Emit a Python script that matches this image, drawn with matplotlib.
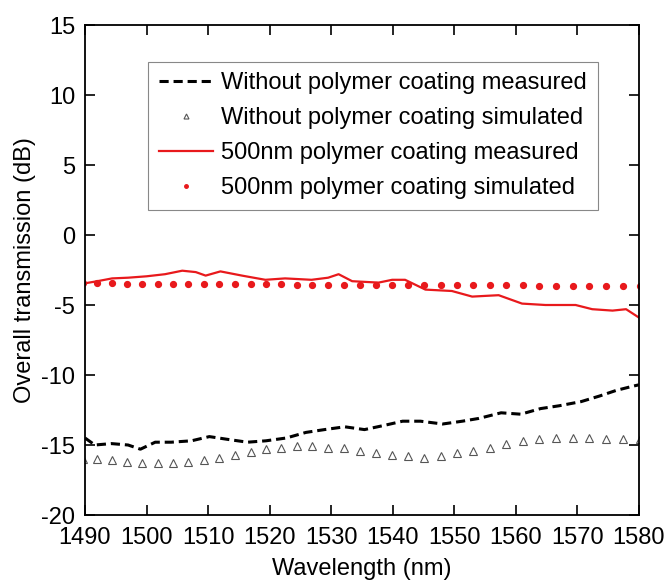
import matplotlib
matplotlib.use("Agg")
import matplotlib.pyplot as plt
import numpy as np

plt.rcParams["font.family"] = ["Liberation Sans", "DejaVu Sans"]
plt.rcParams["axes.unicode_minus"] = False

# Measured transmission, no polymer coating
wl_bare_meas = [1490.0, 1491.6, 1494.3, 1497.0, 1499.0, 1501.4, 1504.0, 1507.3, 1510.2,
                1513.2, 1516.4, 1519.4, 1522.7, 1525.9, 1528.9, 1532.2, 1535.4, 1538.6,
                1541.6, 1544.5, 1548.1, 1551.3, 1554.0, 1557.6, 1560.8, 1564.0, 1567.0,
                1570.6, 1573.6, 1576.3, 1579.0, 1580.0]
tr_bare_meas = [-14.5, -15.0, -14.9, -15.0, -15.3, -14.8, -14.8, -14.7, -14.4,
                -14.6, -14.8, -14.7, -14.5, -14.1, -13.9, -13.7, -13.9, -13.6,
                -13.3, -13.3, -13.5, -13.3, -13.1, -12.7, -12.8, -12.4, -12.2,
                -11.9, -11.5, -11.1, -10.8, -10.7]

# Measured transmission, 500 nm polymer coating
wl_coat_meas = [1490.0, 1492.0, 1494.4, 1497.0, 1500.0, 1503.0, 1505.8, 1508.0, 1509.6,
                1512.0, 1515.5, 1519.3, 1522.5, 1526.8, 1529.5, 1531.2, 1533.4, 1537.7,
                1539.9, 1542.0, 1545.3, 1549.6, 1552.9, 1555.0, 1557.2, 1561.0, 1564.8,
                1569.7, 1572.4, 1575.7, 1577.9, 1580.0]
tr_coat_meas = [-3.45, -3.3, -3.1, -3.05, -2.95, -2.8, -2.55, -2.65, -2.9,
                -2.6, -2.9, -3.2, -3.1, -3.2, -3.05, -2.8, -3.3, -3.4,
                -3.2, -3.2, -3.9, -4.0, -4.4, -4.35, -4.3, -4.9, -5.0,
                -5.0, -5.3, -5.4, -5.3, -5.9]

# Simulated points (same wavelength grid for both structures)
wl_sim = [1489.6, 1492.0, 1494.4, 1496.9, 1499.3, 1501.8, 1504.3, 1506.8, 1509.3, 1511.8,
          1514.3, 1516.9, 1519.4, 1521.9, 1524.4, 1526.9, 1529.4, 1532.0, 1534.6,
          1537.3, 1539.8, 1542.5, 1545.1, 1547.8, 1550.4, 1553.1, 1555.8, 1558.4,
          1561.1, 1563.8, 1566.5, 1569.2, 1571.9, 1574.6, 1577.4, 1580.1]
tr_bare_sim = [-16.0, -16.0, -16.1, -16.2, -16.3, -16.3, -16.3, -16.2, -16.1, -15.9,
               -15.7, -15.5, -15.3, -15.2, -15.1, -15.1, -15.2, -15.2, -15.4,
               -15.6, -15.7, -15.8, -15.9, -15.8, -15.6, -15.4, -15.2, -14.9,
               -14.7, -14.6, -14.5, -14.5, -14.5, -14.6, -14.6, -14.6]
tr_coat_sim = [-3.45, -3.45, -3.45, -3.47, -3.48, -3.5, -3.5, -3.5, -3.5, -3.5,
               -3.52, -3.52, -3.53, -3.53, -3.54, -3.54, -3.55, -3.55, -3.56,
               -3.56, -3.57, -3.57, -3.58, -3.58, -3.59, -3.59, -3.6, -3.6,
               -3.6, -3.61, -3.61, -3.61, -3.62, -3.62, -3.62, -3.62]

fig = plt.figure(figsize=(6.68, 5.86), dpi=100, facecolor="white")
# axes box: x 85..639 px, y 25..515 px
ax = fig.add_axes([85 / 668, 71 / 586, 554 / 668, 490 / 586])

ax.plot(wl_bare_meas, tr_bare_meas, color="black", linewidth=2.2, dashes=(3, 1.6),
        label="Without polymer coating measured")
ax.plot(wl_sim, tr_bare_sim, linestyle="none", marker="^", markersize=6,
        markerfacecolor="white", markeredgecolor="#555555", markeredgewidth=0.8,
        label="Without polymer coating simulated")
ax.plot(wl_coat_meas, tr_coat_meas, color="#e8191c", linewidth=1.6,
        label="500nm polymer coating measured")
ax.plot(wl_sim, tr_coat_sim, linestyle="none", marker="o", markersize=4.2,
        color="#e8191c", label="500nm polymer coating simulated")

ax.set_xlim(1490, 1580)
ax.set_ylim(-20, 15)
ax.set_xticks(np.arange(1490, 1581, 10))
ax.set_yticks(np.arange(-20, 16, 5))
ax.tick_params(direction="in", length=7, width=1.2, labelsize=17,
               right=True, top=True)
ax.tick_params(axis="x", pad=9)
ax.tick_params(axis="y", pad=7)
for s in ax.spines.values():
    s.set_linewidth(1.3)

ax.set_xlabel("Wavelength (nm)", fontsize=17)
ax.set_ylabel("Overall transmission (dB)", fontsize=17)
ax.xaxis.set_label_coords(0.5, -0.088)
ax.yaxis.set_label_coords(-0.108, 0.5)
ax.yaxis.label.set_verticalalignment("center")

leg = ax.legend(loc="upper left", bbox_to_anchor=(0.114, 0.925), fontsize=17,
                frameon=True, fancybox=False, edgecolor="#888888", framealpha=1,
                handlelength=2.3, handletextpad=0.35, borderpad=0.45, labelspacing=0.55,
                borderaxespad=0, markerscale=0.6)
leg.get_frame().set_linewidth(0.8)

fig.savefig("out.png", dpi=100, facecolor="white")
